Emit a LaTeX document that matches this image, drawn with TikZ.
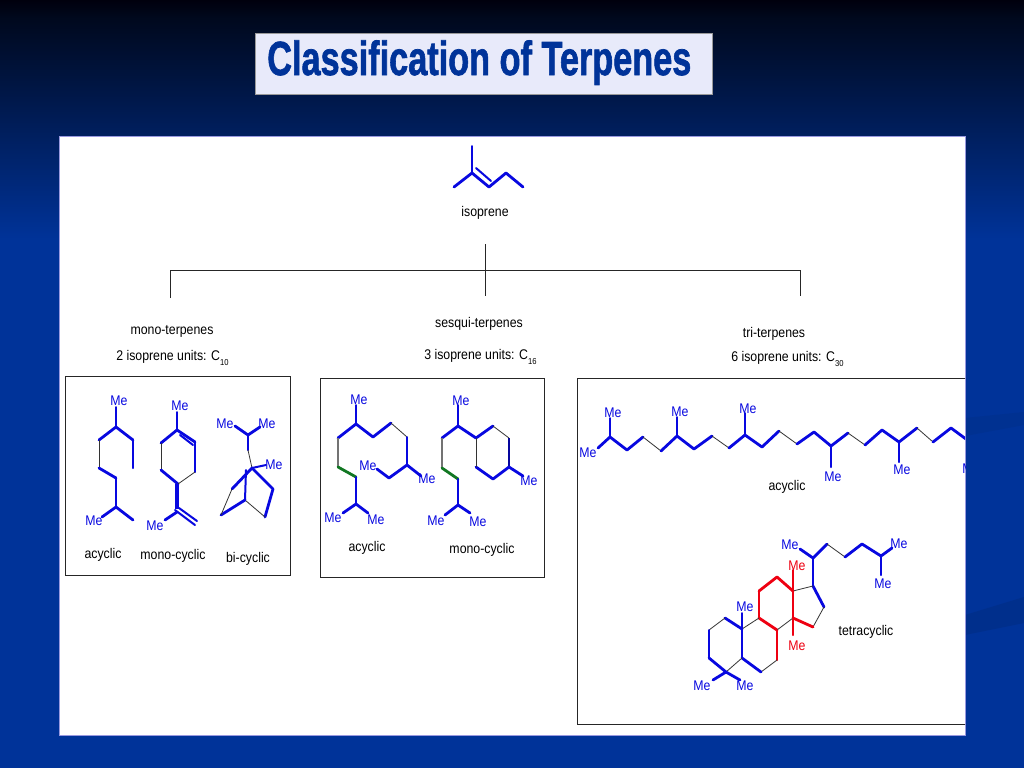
\documentclass[tikz,border=0pt]{standalone}
\usepackage{fontspec}
\setmainfont{Liberation Sans}
\newfontfamily\titlefont[UprightFont=*-Bold,FakeBold=1.6]{Liberation Sans}
\definecolor{slideblue}{HTML}{003399}
\definecolor{slidedark}{HTML}{00081C}
\definecolor{slideband}{HTML}{002F8C}
\definecolor{titlebg}{HTML}{E8EAFA}
\definecolor{molblue}{HTML}{0808E0}
\definecolor{molred}{HTML}{EE0011}
\definecolor{molgreen}{HTML}{117722}
\newcount\autonode
\newcommand{\narrow}[1]{\scalebox{0.88}[1]{#1}}
\newcommand{\me}[2][melab]{\global\advance\autonode by 1 \node[#1] (me\the\autonode) at (#2) {\narrow{Me}};}
\newcommand{\tx}[3]{\node[txt] (#1) at (#2) {\narrow{#3}};}
\newcommand{\subnum}[1]{\raisebox{-3.5pt}{\fontsize{6.5}{7}\selectfont #1}}
\tikzset{
  bthick/.style={draw=molblue,line width=2.1pt,line join=round,line cap=round},
  bmid/.style={draw=molblue,line width=1.5pt,line join=round,line cap=round},
  rthick/.style={draw=molred,line width=2.1pt,line join=round,line cap=round},
  rmid/.style={draw=molred,line width=1.5pt,line join=round,line cap=round},
  gthick/.style={draw=molgreen,line width=2.1pt,line cap=round},
  bthin/.style={draw=black!80,line width=0.6pt},
  bgrey/.style={draw=black!55,line width=0.8pt},
  blthin/.style={draw=molblue!70!black,line width=0.8pt},
  melab/.style={inner sep=0pt,text=molblue,yshift=-0.75pt,font=\fontsize{10.5}{11}\selectfont},
  meleft/.style={melab,anchor=west},
  merd/.style={melab,text=molred},
  txt/.style={inner sep=0pt,text=black,yshift=-0.75pt,font=\fontsize{10.5}{11}\selectfont},
  treeline/.style={draw=black!85,line width=0.7pt},
  frame/.style={draw=black!85,line width=0.7pt},
}
\begin{document}
\begin{tikzpicture}[x=0.75pt,y=-0.75pt]
\useasboundingbox (0,0) rectangle (1024,768);
% background
\fill[slideblue] (0,0) rectangle (1024,768);
\shade[top color=slidedark,bottom color=slideblue] (0,15) rectangle (1024,240);
\shade[top color=black!95!blue,bottom color=slidedark] (0,0) rectangle (1024,16);
\fill[slideband] (965,615) -- (1024,597) -- (1024,623) -- (965,635) -- cycle;
\fill[slideband!60!slideblue] (965,418) -- (1024,412) -- (1024,425) -- (965,436) -- cycle;
% title
\node[draw=black!40,line width=0.4pt,fill=titlebg,minimum width=342.75pt,minimum height=45.75pt,inner sep=0pt] (titlebox) at (483.5,63.5) {};
\node[inner sep=0pt,text=slideblue,anchor=base west] (title) at (267,75) {\resizebox{318pt}{26pt}{\titlefont Classification of Terpenes}};
% panel
\node[fill=white,draw=black!30!blue!40,line width=0.6pt,minimum width=680pt,minimum height=449.25pt,inner sep=0pt,anchor=north west] (panel) at (58.5,135.5) {};
\begin{scope}
\clip (58.5,135.5) rectangle (965,735);
% isoprene
\draw[bmid] (472,146) -- (472,173);
\draw[bthick] (454,187) -- (472,173) -- (489,187) -- (506,173) -- (523,187);
\draw[bmid] (476,168) -- (491,181);
\tx{isolab}{485,212}{isoprene}
% tree
\coordinate (treeTop) at (485.5,244);
\coordinate (treeMid) at (485.5,270);
\coordinate (treeMidB) at (485.5,296);
\coordinate (treeL) at (170.5,270);
\coordinate (treeLB) at (170.5,298);
\coordinate (treeR) at (800,270);
\coordinate (treeRB) at (800,296);
\draw[treeline] (treeTop) -- (treeMidB);
\draw[treeline] (treeLB) -- (treeL) -- (treeR) -- (treeRB);
% group labels
\tx{mono}{172,330}{mono-terpenes}
\node[txt,anchor=west] (monou) at (116,357) {\narrow{2 isoprene units: C\subnum{10}}};
\tx{sesq}{479,323}{sesqui-terpenes}
\node[txt,anchor=west] (sesqu) at (424,356) {\narrow{3 isoprene units: C\subnum{16}}};
\tx{trit}{774,333}{tri-terpenes}
\node[txt,anchor=west] (triu) at (731,358) {\narrow{6 isoprene units: C\subnum{30}}};
% frames
\draw[frame] (65,376) rectangle (290.5,575.5);
\draw[frame] (320,378) rectangle (544.5,577);
\draw[frame] (577,378) -- (975,378);
\draw[frame] (577,378) -- (577,724) -- (975,724);
% mono acyclic
\draw[bmid] (116,407) -- (116,427);
\draw[bthick] (99,440) -- (116,427) -- (133,440);
\draw[bmid] (133,440) -- (133,468);
\draw[bthin] (99,440) -- (99,468);
\draw[bthick] (99,468) -- (116,478);
\draw[bthick] (116,478) -- (116,507);
\draw[bthick] (102,517) -- (116,507) -- (133,520);
\me{119,400}
\me{94,520}
\tx{ma}{103,554}{acyclic}
% mono cyclic
\draw[bmid] (177,412) -- (177,430);
\draw[bthick] (161,443) -- (177,430) -- (195,442);
\draw[bmid] (195,442) -- (195,472);
\draw[bmid] (180,435) -- (193,445);
\draw[bthin] (161,443) -- (161,470);
\draw[bthick] (161,470) -- (178,484);
\draw[bthin] (178,484) -- (195,472);
\draw[draw=molblue,line width=3pt] (177,484) -- (177,509);
\draw[bthick] (177,512) -- (165,520);
\draw[bmid] (175,510) -- (195,525);
\draw[bmid] (179,508) -- (197,521);
\me{180,405}
\me{155,525}
\tx{mc}{173,555}{mono-cyclic}
% bicyclic
\draw[bthick] (235,426) -- (248,435) -- (260,427);
\draw[bmid] (248,435) -- (248,450);
\draw[bthin] (248,450) -- (252,468);
\draw[bmid] (252,468) -- (266,465);
\draw[bthick] (232,489) -- (252,468) -- (273,489) -- (265,517);
\draw[bthin] (265,517) -- (245,500);
\draw[bthick] (245,500) -- (221,515);
\draw[bthin] (221,515) -- (232,489);
\draw[bmid] (245,500) -- (246,470);
\me{225,423}
\me{267,423}
\me{274,464}
\tx{bc}{248,558}{bi-cyclic}
% sesqui acyclic
\draw[bmid] (356,405) -- (356,424);
\draw[bthick] (338,438) -- (356,424) -- (373,437) -- (391,423);
\draw[bthin] (391,423) -- (407,437);
\draw[bmid] (407,437) -- (407,465);
\draw[bthick] (377,469) -- (389,478) -- (407,465) -- (421,476);
\draw[bgrey] (338,438) -- (338,467);
\draw[gthick] (338,467) -- (356,477);
\draw[bmid] (356,477) -- (356,504);
\draw[bthick] (343,513) -- (356,504) -- (368,513);
\me{359,399}
\me{368,465}
\me{427,478}
\me{333,517}
\me{376,519}
\tx{sa}{367,547}{acyclic}
% sesqui monocyclic
\draw[bmid] (458,405) -- (458,426);
\draw[bthick] (442,438) -- (458,426) -- (476,438) -- (493,426);
\draw[bthin] (493,426) -- (509,438);
\draw[blthin] (509,438) -- (509,467);
\draw[bthick] (523,476) -- (509,467) -- (493,479) -- (476,467);
\draw[bthin] (476,467) -- (476,438);
\draw[bgrey] (442,438) -- (442,468);
\draw[gthick] (442,468) -- (458,479);
\draw[bmid] (458,479) -- (458,505);
\draw[bthick] (445,515) -- (458,505) -- (470,513);
\me{461,400}
\me{529,480}
\me{436,520}
\me{478,521}
\tx{sm}{482,549}{mono-cyclic}
% tri acyclic
\draw[bmid] (610,418) -- (610,437);
\draw[bthick] (598,448) -- (610,437) -- (627,450) -- (643,437);
\draw[bthin] (643,437) -- (661,451);
\draw[bthick] (661,451) -- (677,436) -- (694,449) -- (712,436);
\draw[bthin] (712,436) -- (729,448);
\draw[bthick] (729,448) -- (745,435) -- (762,447) -- (779,431);
\draw[bthin] (779,431) -- (797,444);
\draw[bthick] (797,444) -- (814,432) -- (831,446) -- (848,433);
\draw[bthin] (848,433) -- (865,445);
\draw[bthick] (865,445) -- (882,430) -- (899,442) -- (917,428);
\draw[bthin] (917,428) -- (933,442);
\draw[bthick] (933,442) -- (951,428) -- (970,442);
\draw[bmid] (677,436) -- (677,417);
\draw[bmid] (745,435) -- (745,413);
\draw[bmid] (831,446) -- (831,467);
\draw[bmid] (899,442) -- (899,462);
\me{613,412}
\me{588,452}
\me{680,411}
\me{748,408}
\me{833,476}
\me{902,469}
\me[meleft]{962,468}
\tx{ta}{787,486}{acyclic}
% tetracyclic
\draw[bthick] (800,549) -- (813,558) -- (827,544);
\draw[bthin] (827,544) -- (845,557);
\draw[bthick] (845,557) -- (862,544) -- (881,556) -- (892,548);
\draw[bmid] (881,556) -- (881,575);
\draw[bmid] (813,558) -- (813,586);
\draw[bthick] (813,586) -- (824,607);
\draw[bthin] (824,607) -- (813,627);
\draw[bthin] (793,591) -- (813,586);
\draw[rthick] (813,627) -- (793,618);
\draw[rmid] (793,618) -- (793,591);
\draw[rthick] (793,591) -- (777,577) -- (759,591);
\draw[rmid] (759,591) -- (759,618);
\draw[rthick] (759,618) -- (777,630);
\draw[bthin] (777,630) -- (793,618);
\draw[rmid] (777,630) -- (777,660);
\draw[bthin] (777,660) -- (761,672);
\draw[bthick] (761,672) -- (742,658);
\draw[bmid] (742,658) -- (742,629);
\draw[bthin] (742,629) -- (759,618);
\draw[bthick] (742,629) -- (725,618);
\draw[bthin] (725,618) -- (709,630);
\draw[bmid] (709,630) -- (709,658);
\draw[bthick] (709,658) -- (726,672);
\draw[bthin] (726,672) -- (742,658);
\draw[bthick] (713,680) -- (726,672) -- (740,680);
\draw[bmid] (742,629) -- (742,613);
\draw[rmid] (793,591) -- (793,570);
\draw[rmid] (793,618) -- (793,635);
\me{790,544}
\me{899,543}
\me{883,583}
\me[merd]{797,565}
\me[merd]{797,645}
\me{745,606}
\me{702,685}
\me{745,685}
\tx{tt}{866,631}{tetracyclic}
\end{scope}
\end{tikzpicture}
\end{document}
